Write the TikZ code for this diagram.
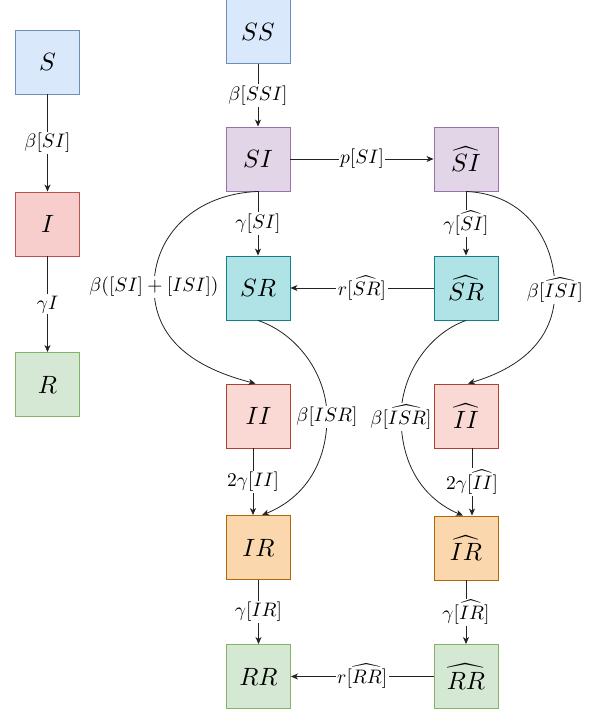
\documentclass[tikz,border=0pt]{standalone}
\usepackage{graphicx}
\usepackage{amsmath}
\usetikzlibrary{arrows.meta}
\definecolor{bluef}{HTML}{DAE8FC}\definecolor{blued}{HTML}{6C8EBF}
\definecolor{purf}{HTML}{E1D5E7}\definecolor{purd}{HTML}{9673A6}
\definecolor{tealf}{HTML}{B0E3E6}\definecolor{teald}{HTML}{0E8088}
\definecolor{redf}{HTML}{F8CECC}\definecolor{redd}{HTML}{B85450}
\definecolor{pinkf}{HTML}{FAD9D5}\definecolor{pinkd}{HTML}{AE4132}
\definecolor{orf}{HTML}{FAD7AC}\definecolor{ord}{HTML}{B46504}
\definecolor{grf}{HTML}{D5E8D4}\definecolor{grd}{HTML}{82B366}
\definecolor{edgec}{HTML}{222222}
\newcommand\bx[1]{\scalebox{2.5}{$#1$}}
\newcommand\lb[1]{\scalebox{1.95}{$#1$}}
\tikzset{
  cbox/.style={draw, line width=0.9pt, minimum width=64pt, minimum height=64pt, inner sep=0pt},
  bluebox/.style={cbox, fill=bluef, draw=blued},
  purbox/.style={cbox, fill=purf, draw=purd},
  tealbox/.style={cbox, fill=tealf, draw=teald},
  redbox/.style={cbox, fill=redf, draw=redd},
  pinkbox/.style={cbox, fill=pinkf, draw=pinkd},
  orbox/.style={cbox, fill=orf, draw=ord},
  grbox/.style={cbox, fill=grf, draw=grd},
  flow/.style={draw=edgec, line width=0.8pt, -{Stealth[length=7pt,width=6pt,inset=2pt]}},
  lbl/.style={fill=white, inner sep=1.5pt, text=black}
}
\begin{document}
\begin{tikzpicture}[x=1pt,y=-1pt]
\useasboundingbox (0,0) rectangle (589,712);
% left model
\node[bluebox] (S) at (47.5,62) {\bx{S}};
\node[redbox] (I) at (47.5,224) {\bx{I}};
\node[grbox] (R) at (47.5,384.5) {\bx{R}};
% middle column
\node[bluebox] (SS) at (258,31.5) {\bx{SS}};
\node[purbox] (SI) at (258,159) {\bx{SI}};
\node[tealbox] (SR) at (258,288) {\bx{SR}};
\node[pinkbox] (II) at (258.5,416) {\bx{II}};
\node[orbox] (IR) at (258.5,547.5) {\bx{IR}};
\node[grbox] (RR) at (258.5,676.5) {\bx{RR}};
% right column
\node[purbox] (SIh) at (466,159) {\bx{\widehat{SI}}};
\node[tealbox] (SRh) at (466,288) {\bx{\widehat{SR}}};
\node[pinkbox] (IIh) at (466,416) {\bx{\widehat{II}}};
\node[orbox] (IRh) at (466,548) {\bx{\widehat{IR}}};
\node[grbox] (RRh) at (466,676.5) {\bx{\widehat{RR}}};
% straight edges
\draw[flow] (S) -- node[lbl]{\lb{\beta[SI]}} (I);
\draw[flow] (I) -- node[lbl]{\lb{\gamma I}} (R);
\draw[flow] (SS) -- node[lbl]{\lb{\beta[SSI]}} (SI);
\draw[flow] (SI) -- node[lbl]{\lb{p[SI]}} (SIh);
\draw[flow] (SI) -- node[lbl]{\lb{\gamma[SI]}} (SR);
\draw[flow] (SIh) -- node[lbl]{\lb{\gamma[\widehat{SI}]}} (SRh);
\draw[flow] (SRh) -- node[lbl]{\lb{r[\widehat{SR}]}} (SR);
\draw[flow] ([xshift=-5.5pt]II.south) -- node[lbl]{\lb{2\gamma[II]}} ([xshift=-5.5pt]IR.north);
\draw[flow] ([xshift=6pt]IIh.south) -- node[lbl]{\lb{2\gamma[\widehat{II}]}} ([xshift=6pt]IRh.north);
\draw[flow] (IR) -- node[lbl]{\lb{\gamma[IR]}} (RR);
\draw[flow] (IRh) -- node[lbl]{\lb{\gamma[\widehat{IR}]}} (RRh);
\draw[flow] (RRh) -- node[lbl]{\lb{r[\widehat{RR}]}} (RR);
% curved edges
\draw[flow] (SI.south) .. controls (195,194) and (154,235) .. (154,287)
  node[lbl]{\lb{\beta([SI]+[ISI])}}
  .. controls (154,340) and (195,368) .. ([xshift=-3pt]II.north);
\draw[flow] (SIh.south) .. controls (525,194) and (555,240) .. (555,290)
  node[lbl]{\lb{\beta[\widehat{ISI}]}}
  .. controls (555,340) and (520,368) .. ([xshift=2pt]IIh.north);
\draw[flow] (SR.south) .. controls (298,334) and (327,375) .. (327,417)
  node[lbl]{\lb{\beta[ISR]}}
  .. controls (327,468) and (300,500) .. ([xshift=3.5pt]IR.north);
\draw[flow] (SRh.south) .. controls (428,334) and (401,375) .. (401,417)
  node[lbl]{\lb{\beta[\widehat{ISR}]}}
  .. controls (401,468) and (426,500) .. ([xshift=-3pt]IRh.north);
\end{tikzpicture}
\end{document}
